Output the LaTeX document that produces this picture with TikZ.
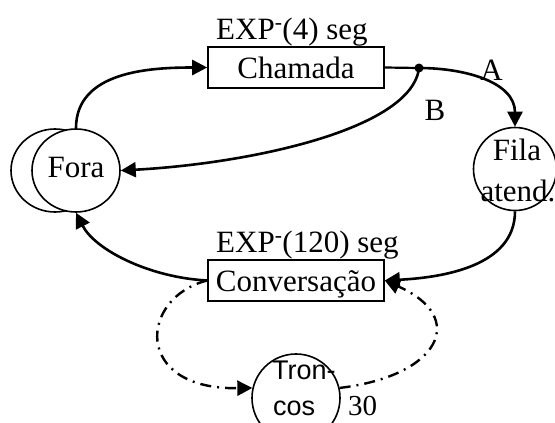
\documentclass[tikz,border=0pt]{standalone}
\usepackage{fontspec}
\setmainfont{Liberation Serif}
\newfontfamily\arialf{Liberation Sans}
\usetikzlibrary{arrows.meta,shapes.geometric}

\tikzset{
  txt/.style={inner sep=0pt, font=\fontsize{31}{40}\selectfont},
  boxnode/.style={draw, line width=1.6pt, rectangle, inner sep=0pt,
    minimum width=176pt, minimum height=41pt, text height=22pt, text depth=0pt,
    font=\fontsize{31}{40}\selectfont},
  statenode/.style={draw, line width=1.6pt, fill=white, inner sep=0pt},
  flow/.style={line width=2.6pt, -{Triangle[length=15pt,width=15pt]}},
  plainflow/.style={line width=2.2pt},
  dashflow/.style={line width=2.4pt, dash pattern=on 11pt off 6pt on 2pt off 6pt,
    -{Triangle[length=15pt,width=15pt]}},
}

\begin{document}
\begin{tikzpicture}[x=1pt, y=-1pt]
  \useasboundingbox (0,0) rectangle (555,423);
  \clip (0,0) rectangle (555,423);

  % states (circles) and activities (boxes)
  \node[statenode, ellipse, minimum width=88pt, minimum height=83pt] (foraback) at (55,170.5) {};
  \node[statenode, ellipse, minimum width=88pt, minimum height=83pt,
        text height=14.4pt, text depth=0pt, font=\fontsize{31}{40}\selectfont] (fora) at (76,170.5) {Fora};
  \node[statenode, circle, minimum size=83pt] (fila) at (515,169) {};
  \node[statenode, circle, minimum size=88pt] (tron) at (296,398) {};
  \node[boxnode] (cham) at (296,67.5) {Chamada};
  \node[boxnode] (conv) at (296,280.5) {Conversação};
  \node[circle, fill, inner sep=0pt, minimum size=9pt] (dot) at (419,68) {};

  % texts
  \node[txt, anchor=base west] (expa) at (216,39) {EXP\textsuperscript{-}(4) seg};
  \node[txt, anchor=base west] (expb) at (216,252) {EXP\textsuperscript{-}(120) seg};
  \node[txt, anchor=base] (filat) at (517,160) {Fila};
  \node[txt, anchor=base] (filab) at (518,201) {atend.};
  \node[txt, anchor=base west, font=\arialf\fontsize{27}{40}\selectfont] (trona) at (272,379) {Tron-};
  \node[txt, anchor=base west, font=\arialf\fontsize{27}{40}\selectfont] (tronb) at (273,415) {cos};
  \node[txt, anchor=base west, font=\fontsize{29}{40}\selectfont] (ntr) at (348,415) {30};
  \node[txt, anchor=base] (la) at (491.5,80) {A};
  \node[txt, anchor=base] (lb) at (435,120.7) {B};

  % flows
  \draw[flow] (fora.north) .. controls +(0,-57) and +(-57,0) .. (cham.west);
  \draw[plainflow] (cham.east) -- (dot.center);
  \draw[flow] (dot.center) .. controls +(45,0) and +(0,-45) .. (fila.north);
  \draw[flow] (dot.center) .. controls +(-7,61) and +(130,-7) .. (fora.east);
  \draw[flow] (fila.south) .. controls +(0,55) and +(58,-3) .. (conv.east);
  \draw[flow] (conv.west) .. controls +(-58,-3) and +(19,37) .. (fora.south);

  % trunk seizure and release
  \draw[dashflow] (conv.west) .. controls +(-68,17) and +(-120,2) .. (tron.167);
  \draw[dashflow] (tron.13) .. controls +(100,-12) and +(84,37) .. (conv.east);
\end{tikzpicture}
\end{document}
